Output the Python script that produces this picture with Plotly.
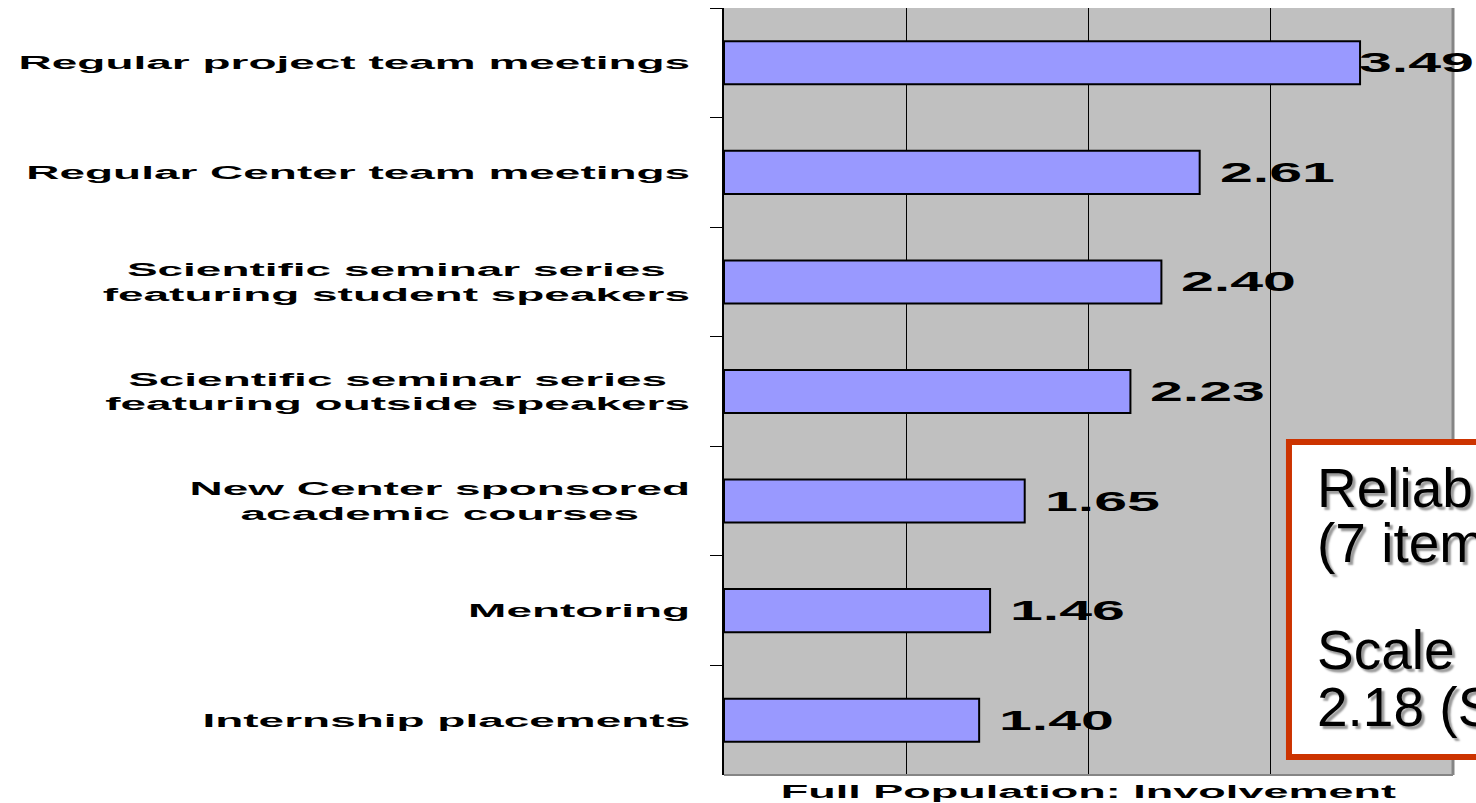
import plotly.graph_objects as go

# ---- data ----
categories = [
    "Regular project team meetings",
    "Regular Center team meetings",
    "Scientific seminar series<br>featuring student speakers",
    "Scientific seminar series<br>featuring outside speakers",
    "New Center sponsored<br>academic courses",
    "Mentoring",
    "Internship placements",
]
values = [3.49, 2.61, 2.40, 2.23, 1.65, 1.46, 1.40]
value_labels = [f"{v:.2f}" for v in values]
axis_title = "Full Population: Involvement"
box_lines = ["Reliability", "(7 items)", "Scale", "2.18 (SD)"]
x_range = [0, 4]

W, H = 1476, 803
ML, MR, MT, MB = 724, 23, 8, 28
plot_w = W - ML - MR
px_per_unit = plot_w / (x_range[1] - x_range[0])

FONT = "Liberation Sans, Arial, sans-serif"

fig = go.Figure()
fig.add_trace(go.Bar(
    x=values, y=categories, orientation="h",
    marker=dict(color="#9999FF", line=dict(color="#000000", width=2)),
    hoverinfo="skip", showlegend=False,
))

annotations = []
# value labels (kept inside the chart area like the original)
label_w = 115
for c, v, t in zip(categories, values, value_labels):
    start = ML + v * px_per_unit
    shift = min(18, (W - 4) - label_w - start)
    annotations.append(dict(
        x=v, y=c, xref="x", yref="y", text=t, showarrow=False,
        xanchor="left", yanchor="middle", align="left", xshift=shift,
        font=dict(family=FONT, size=28, color="#000000", weight="bold"),
    ))
# axis title
annotations.append(dict(
    x=0.5, y=0, xref="paper", yref="paper", text=axis_title, showarrow=False,
    xanchor="center", yanchor="top", yshift=-4,
    font=dict(family=FONT, size=19, color="#000000", weight="bold"),
))
# text box lines
box_y = [0.374, 0.302, 0.163, 0.089]
for txt, yy in zip(box_lines, box_y):
    annotations.append(dict(
        x=0.8105, y=yy, xref="paper", yref="paper", text=txt, showarrow=False,
        xanchor="left", yanchor="middle", align="left",
        font=dict(family=FONT, size=55, color="#000000",
                  shadow="3px 3px 2px #9a9a9a"),
    ))

shapes = [
    # plot-area border (right and bottom, grey)
    dict(type="line", xref="paper", yref="paper", x0=1, x1=1, y0=0, y1=1,
         line=dict(color="#858585", width=3), layer="above"),
    dict(type="line", xref="paper", yref="paper", x0=0, x1=1, y0=0, y1=0,
         line=dict(color="#858585", width=2), layer="above"),
    # text box
    dict(type="rect", xref="paper", yref="paper", x0=0.775, x1=1.15, y0=0.0235, y1=0.434,
         line=dict(color="#CC3300", width=6), fillcolor="#FFFFFF", layer="above"),
]

fig.update_layout(
    width=W, height=H,
    margin=dict(l=ML, r=MR, t=MT, b=MB, autoexpand=False),
    paper_bgcolor="#FFFFFF", plot_bgcolor="#C0C0C0",
    bargap=0.607,
    font=dict(family=FONT, color="#000000"),
    annotations=annotations, shapes=shapes,
    xaxis=dict(range=x_range, dtick=1, showgrid=True, gridcolor="#000000", gridwidth=1,
               showticklabels=False, zeroline=False, ticks="", showline=False,
               fixedrange=True),
    yaxis=dict(autorange="reversed", showline=True, linecolor="#000000", linewidth=2,
               ticks="outside", tickson="boundaries", ticklen=12, tickcolor="#000000",
               tickwidth=1, ticklabelstandoff=28,
               tickfont=dict(family=FONT, size=19, color="#000000", weight="bold"),
               showgrid=False, zeroline=False, fixedrange=True),
)

post = r"""
var gd = document.getElementById('{plot_id}');
function stretch(t, k, where){
  var bb = t.getBBox();
  var ax = where === 'left' ? bb.x : (where === 'right' ? bb.x + bb.width : bb.x + bb.width/2);
  var cur = t.getAttribute('transform') || '';
  t.setAttribute('transform', cur + ' translate(' + ax + ',0) scale(' + k + ',1) translate(' + (-ax) + ',0)');
}
gd.querySelectorAll('.ytick text').forEach(function(t){
  var tsp = t.querySelectorAll('tspan.line');
  if (tsp.length > 1) {
    var bb = t.getBBox(); var R = bb.x + bb.width;
    t.setAttribute('text-anchor', 'middle');
    tsp.forEach(function(s){ s.setAttribute('x', R - bb.width/2); });
  }
  stretch(t, 2.42, 'right');
});
gd.querySelectorAll('g.annotation').forEach(function(g){
  var i = +g.getAttribute('data-index');
  var t = g.querySelector('text');
  if (!t) return;
  if (i < 7) stretch(t, 2.11, 'left');
  else if (i === 7) stretch(t, 2.37, 'center');
});
"""

fig.write_html("out.html", post_script=post, config={"displayModeBar": False})
